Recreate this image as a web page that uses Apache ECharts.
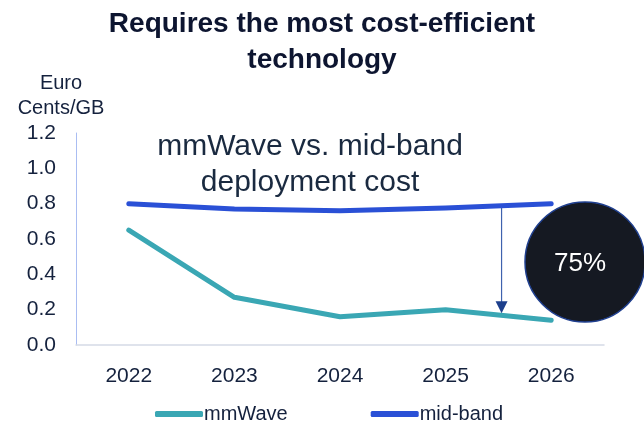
<!DOCTYPE html>
<html>
<head>
<meta charset="utf-8">
<script src="https://cdn.jsdelivr.net/npm/echarts@6/dist/echarts.min.js"></script>
<style>
  html, body { margin: 0; padding: 0; background: #ffffff; }
  #chart { width: 644px; height: 425px; }
</style>
</head>
<body>
<div id="chart"></div>
<script>
// Deployment cost per GB, euro cents
const years = ['2022', '2023', '2024', '2025', '2026'];
const mmWave = [0.65, 0.27, 0.16, 0.20, 0.14];
const midBand = [0.80, 0.77, 0.76, 0.775, 0.80];
const savingLabel = '75%';

const navy = '#14213d';
const font = '"Liberation Sans", Arial, sans-serif';

const chart = echarts.init(document.getElementById('chart'));
chart.setOption({
  animation: false,
  backgroundColor: '#ffffff',
  textStyle: { fontFamily: font },
  title: {
    text: 'Requires the most cost-efficient\ntechnology',
    left: 'center',
    top: 1,
    textStyle: { color: '#0d1530', fontSize: 28, fontWeight: 'bold', lineHeight: 36, fontFamily: font }
  },
  grid: { left: 76, right: 40, top: 133, bottom: 80 },
  legend: {
    top: 404,
    left: 155,
    padding: 0,
    itemWidth: 48,
    itemHeight: 6,
    itemGap: 83,
    icon: 'roundRect',
    textStyle: { color: navy, fontSize: 20, padding: [0, 0, 0, -4] },
    data: ['mmWave', 'mid-band']
  },
  xAxis: {
    type: 'category',
    data: years,
    boundaryGap: true,
    axisLine: { lineStyle: { color: '#d5dae6', width: 1.5 } },
    axisTick: { show: false },
    axisLabel: { color: navy, fontSize: 21, margin: 21 }
  },
  yAxis: {
    type: 'value',
    min: 0,
    max: 1.2,
    interval: 0.2,
    name: 'Euro\nCents/GB',
    nameLocation: 'end',
    nameGap: 12,
    nameTextStyle: { color: navy, fontSize: 20, lineHeight: 25, align: 'center', padding: [0, 30, 0, 0] },
    axisLine: { show: true, lineStyle: { color: '#aabdf2', width: 1 } },
    axisTick: { show: false },
    splitLine: { show: false },
    axisLabel: { color: navy, fontSize: 21, margin: 20, formatter: v => v.toFixed(1) }
  },
  series: [
    {
      name: 'mmWave',
      type: 'line',
      data: mmWave,
      symbol: 'none',
      lineStyle: { color: '#3aa7b4', width: 5, cap: 'round', join: 'round' },
      itemStyle: { color: '#3aa7b4' },
      z: 2
    },
    {
      name: 'mid-band',
      type: 'line',
      data: midBand,
      symbol: 'none',
      lineStyle: { color: '#2a50d6', width: 5, cap: 'round', join: 'round' },
      itemStyle: { color: '#2a50d6' },
      z: 3
    }
  ]
});

// Gap arrow between the two curves, placed part way from 2025 to 2026
const t = 0.53;
const p25top = chart.convertToPixel({ seriesIndex: 1 }, [3, midBand[3]]);
const p26top = chart.convertToPixel({ seriesIndex: 1 }, [4, midBand[4]]);
const p25bot = chart.convertToPixel({ seriesIndex: 0 }, [3, mmWave[3]]);
const p26bot = chart.convertToPixel({ seriesIndex: 0 }, [4, mmWave[4]]);
const ax = p25top[0] + t * (p26top[0] - p25top[0]);
const ay1 = p25top[1] + t * (p26top[1] - p25top[1]) + 2;
const ay2 = p25bot[1] + t * (p26bot[1] - p25bot[1]) - 2;

chart.setOption({
  graphic: [
    {
      type: 'text',
      z: 10,
      style: {
        text: 'mmWave vs. mid-band\ndeployment cost',
        x: 310,
        y: 129,
        fill: '#1a2a40',
        font: '30px ' + font,
        lineHeight: 36,
        textAlign: 'center'
      }
    },
    {
      type: 'line',
      z: 10,
      shape: { x1: ax, y1: ay1, x2: ax, y2: ay2 - 10 },
      style: { stroke: '#3f62ae', lineWidth: 1.2 }
    },
    {
      type: 'polygon',
      z: 10,
      shape: { points: [[ax - 6, ay2 - 12], [ax + 6, ay2 - 12], [ax, ay2]] },
      style: { fill: '#1d3f8c' }
    },
    {
      type: 'circle',
      z: 10,
      shape: { cx: 585, cy: 262, r: 60 },
      style: { fill: '#151922', stroke: '#1f3f8f', lineWidth: 1.5 }
    },
    {
      type: 'text',
      z: 11,
      style: {
        text: savingLabel,
        x: 580,
        y: 264,
        fill: '#ffffff',
        font: '26px ' + font,
        textAlign: 'center',
        textVerticalAlign: 'middle'
      }
    }
  ]
});
</script>
</body>
</html>
